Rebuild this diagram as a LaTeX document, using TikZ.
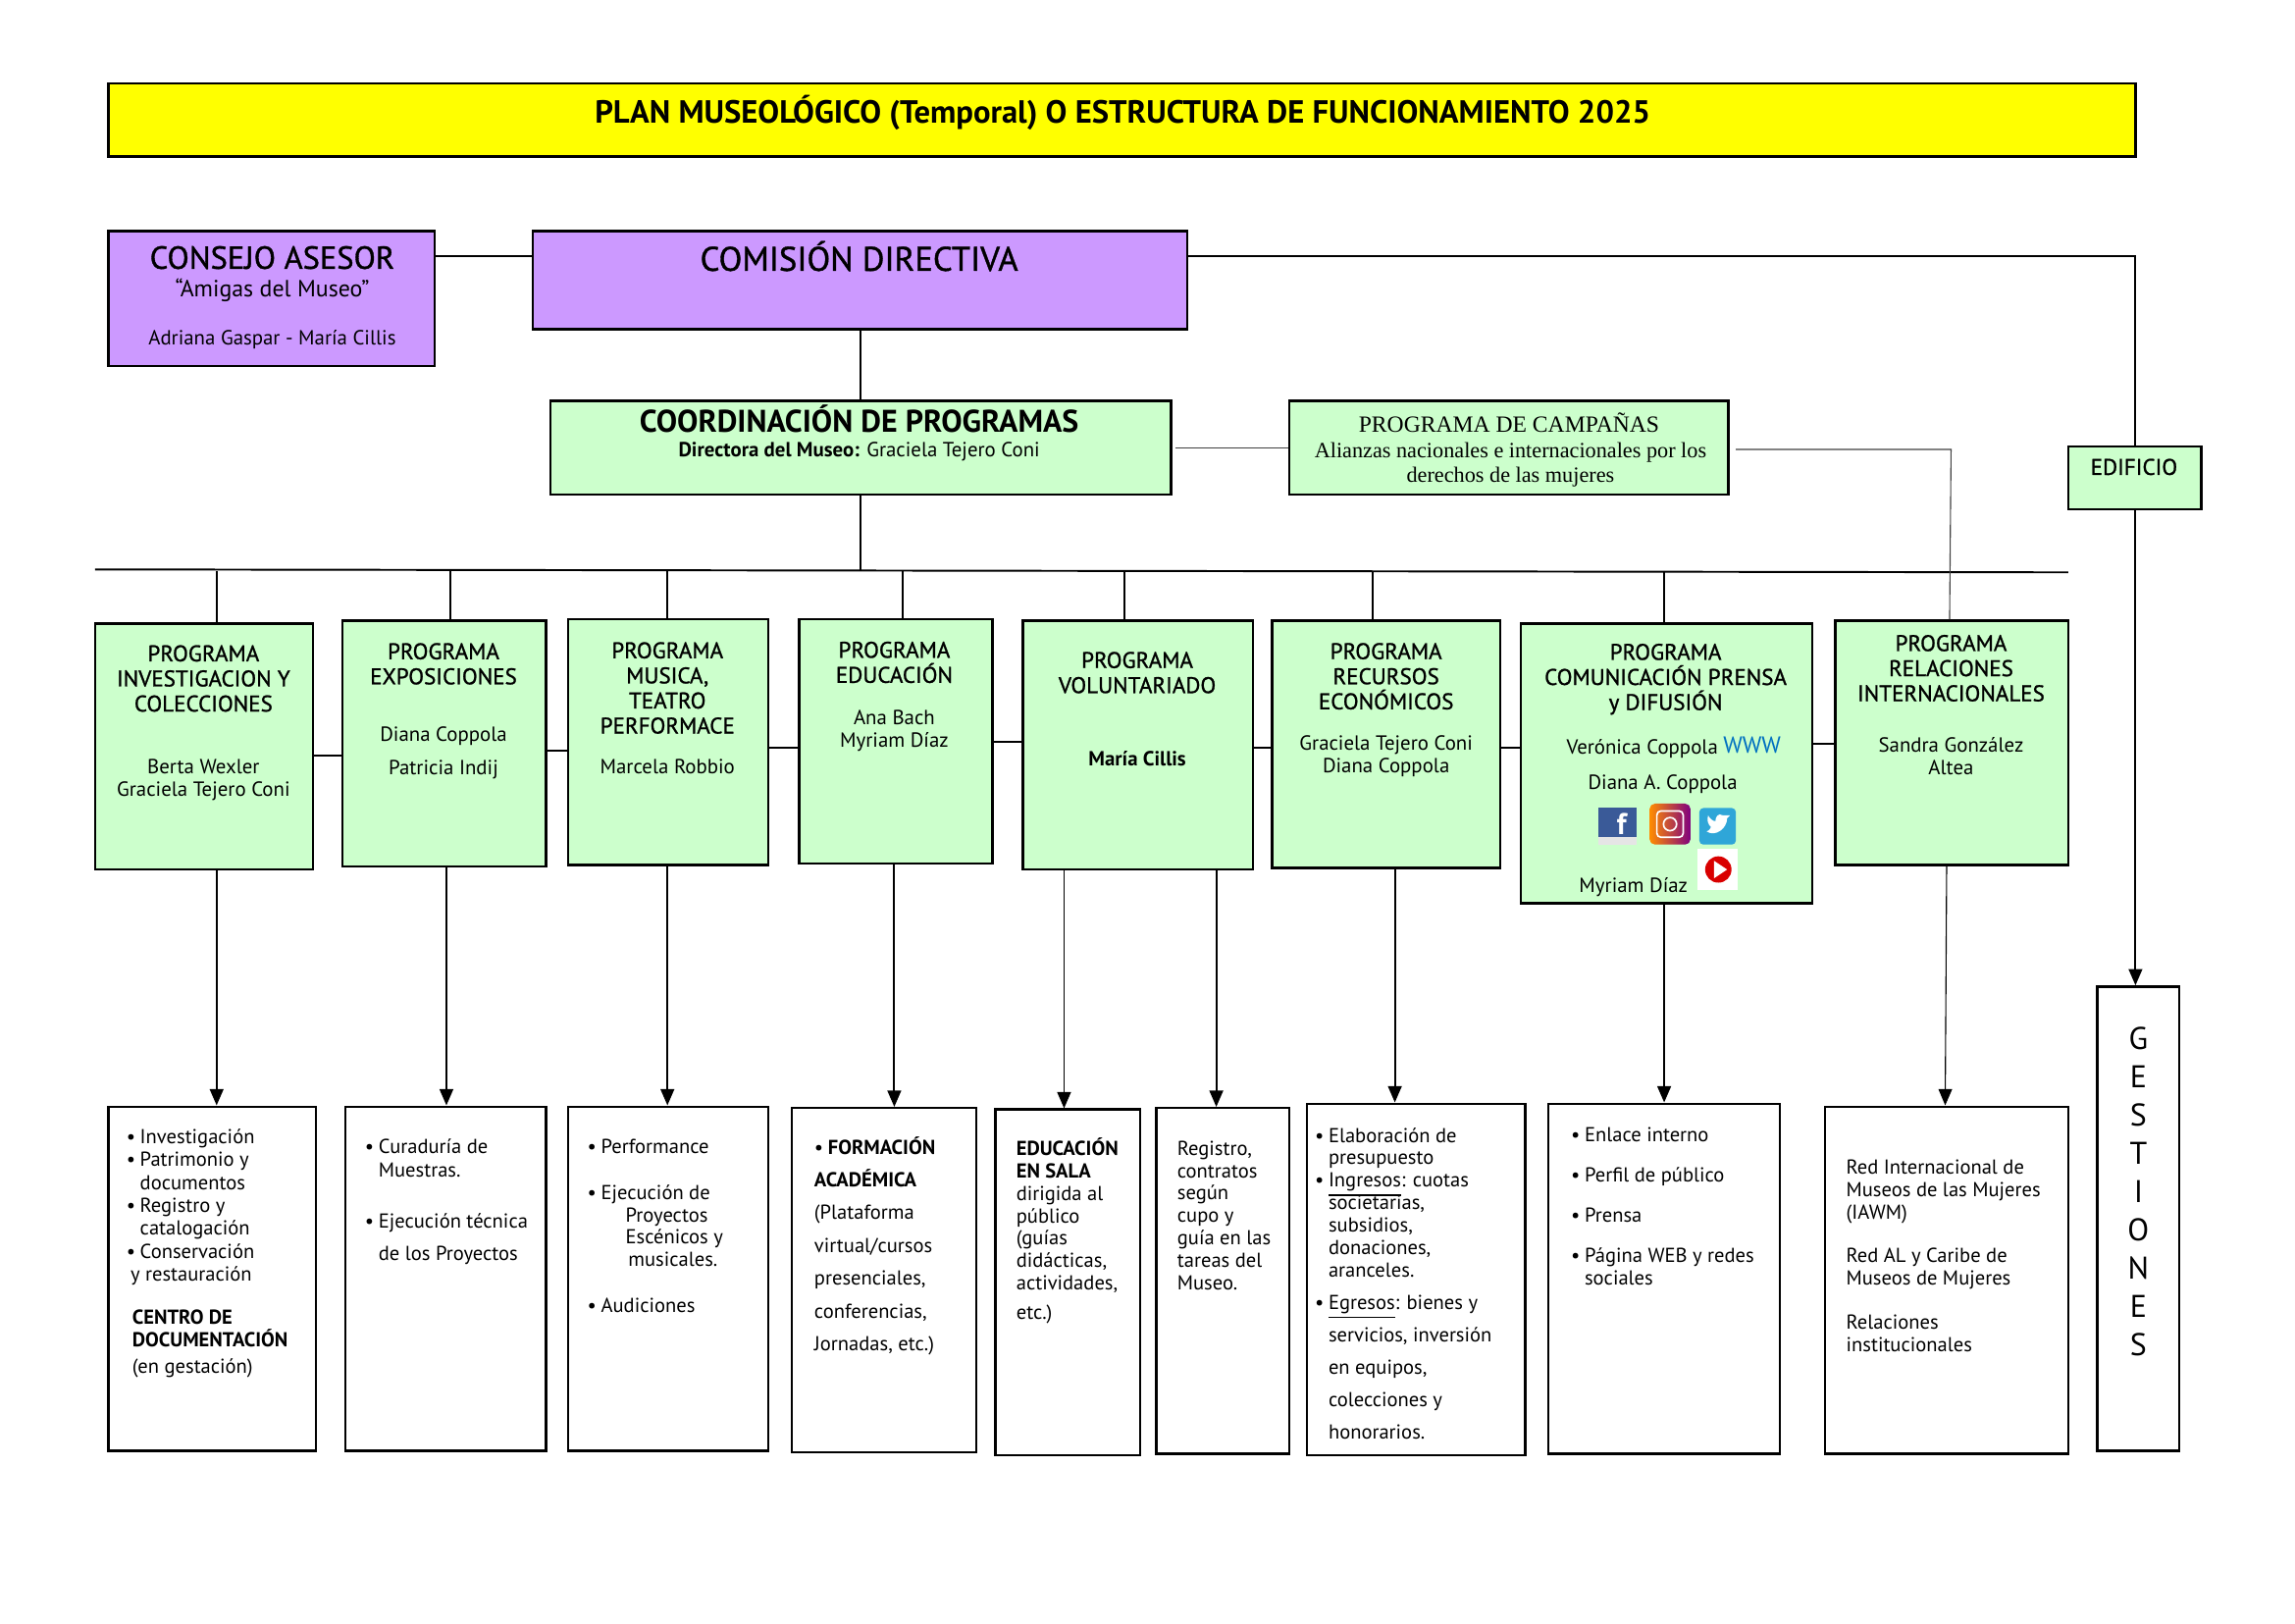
\documentclass[tikz,border=0pt]{standalone}
\usepackage{fontspec}
\usepackage{tikz}
\usetikzlibrary{calc, fit, arrows.meta}
\setmainfont{PT Sans}
\newfontfamily\medfont[FakeBold=1]{PT Sans}
\newfontfamily\serifcamp{Liberation Serif}
\definecolor{amarillo}{HTML}{FFFF00}
\definecolor{lila}{HTML}{CC99FF}
\definecolor{verde}{HTML}{CCFFCC}
\definecolor{azulweb}{HTML}{0070C0}
\definecolor{azulfb}{HTML}{3A5A98}
\definecolor{azultw}{HTML}{2FA6D8}
\newcommand{\bu}{\makebox[5pt][l]{\textbullet}}
\newcommand{\sep}[1]{\hspace*{#1pt}}
\newcommand{\subr}[1]{\smash{\underline{#1}}}

\begin{document}
\begin{tikzpicture}[x=0.5369pt,y=-0.5369pt]
\tikzstyle{framebox}=[draw=black,line width=0.9pt,inner sep=0pt,rectangle]
\tikzstyle{yellowbox}=[framebox,fill=amarillo]
\tikzstyle{lilabox}=[framebox,fill=lila]
\tikzstyle{greenbox}=[framebox,fill=verde]
\tikzstyle{whitebox}=[framebox,fill=white]
\tikzstyle{headtxt}=[inner sep=0pt,align=center,font=\medfont\fontsize{8.3}{9.2}\selectfont]
\tikzstyle{nametxt}=[inner sep=0pt,align=center,yshift=-1pt,font=\fontsize{7.5}{8.3}\selectfont]
\tikzstyle{listtxt}=[inner sep=0pt,align=left,anchor=north west,font=\fontsize{7.4}{8.4}\selectfont]
\tikzstyle{tightlist}=[listtxt,font=\fontsize{7.4}{8.23}\selectfont]
\tikzstyle{linkline}=[black,line width=0.7pt]
\tikzstyle{thinline}=[black!75,line width=0.4pt]
\tikzstyle{arrowline}=[linkline,-{Triangle[length=6pt,width=5pt]}]
\useasboundingbox (0,0) rectangle (1568,1108.8);

% upper boxes
\node[yellowbox,fit={(74,57) (1459,107)}] (PLAN) {};
\node[lilabox,fit={(74,158) (297,250)}] (CONSEJO) {};
\node[lilabox,fit={(364,158) (811,225)}] (COMISION) {};
\node[greenbox,fit={(376,274) (800,338)}] (COORD) {};
\node[greenbox,fit={(881,274) (1181,338)}] (CAMP) {};
\node[greenbox,fit={(1413,305) (1504,348)}] (EDIF) {};
\node[whitebox,fit={(1433,674) (1489,991)}] (GEST) {};

% programs
\node[greenbox,fit={(65,426) (214,594)}] (P_1) {};
\node[greenbox,fit={(234,424) (373,592)}] (P_2) {};
\node[greenbox,fit={(388,423) (525,591)}] (P_3) {};
\node[greenbox,fit={(546,423) (678,590)}] (P_4) {};
\node[greenbox,fit={(699,424) (856,594)}] (P_5) {};
\node[greenbox,fit={(869,424) (1025,593)}] (P_6) {};
\node[greenbox,fit={(1039,426) (1238,617)}] (P_7) {};
\node[greenbox,fit={(1254,424) (1413,591)}] (P_8) {};

% lower boxes
\node[whitebox,fit={(74,756) (216,991)}] (B_1) {};
\node[whitebox,fit={(236,756) (373,991)}] (B_2) {};
\node[whitebox,fit={(388,756) (525,991)}] (B_3) {};
\node[whitebox,fit={(541,757) (667,992)}] (B_4) {};
\node[whitebox,fit={(680,758) (779,994)}] (B_5) {};
\node[whitebox,fit={(790,757) (881,993)}] (B_6) {};
\node[whitebox,fit={(893,754) (1042,994)}] (B_7) {};
\node[whitebox,fit={(1058,754) (1216,993)}] (B_8) {};
\node[whitebox,fit={(1247,756) (1413,993)}] (B_9) {};

% connectors
\coordinate (BUS_L) at (65,389);
\coordinate (BUS_R) at (1413,391);
\coordinate (BUS_C) at (588,390);
\draw[linkline] (BUS_L) -- (BUS_R);
\draw[linkline] (CONSEJO.east |- 0,175) -- (COMISION.west |- 0,175);
\draw[linkline] (COMISION.south -| 588,0) -- (COORD.north -| 588,0);
\draw[linkline] (COORD.south -| 588,0) -- (BUS_C);
\draw[linkline] (COMISION.east |- 0,175) -| (EDIF.north);
\draw[arrowline] (EDIF.south -| 1459,0) -- (GEST.north -| 1459,0);
\draw[thinline] (803,306) -- (CAMP.west |- 0,306);
\draw[thinline] (1186,307) -- (1333,307) -- (P_8.north -| 1332,0);
\foreach \i/\x in {1/148,2/308,3/456,4/617,5/768,6/938,7/1137}
  \draw[linkline] (\x,390) -- (P_\i.north -| \x,0);
\foreach \i/\j/\y in {1/2/516,2/3/513,3/4/511,4/5/507,5/6/511,6/7/511,7/8/508}
  \draw[linkline] (P_\i.east |- 0,\y) -- (P_\j.west |- 0,\y);
\foreach \i/\j/\x in {1/1/148,2/2/305,3/3/456,4/4/611,5/5/727,5/6/831,6/7/953,7/8/1137}
  \draw[arrowline] (P_\i.south -| \x,0) -- (B_\j.north -| \x,0);
\draw[thinline,-{Triangle[length=6pt,width=5pt]},black] (P_8.south -| 1330,0) -- (B_9.north -| 1329,0);

% texts upper boxes
\node[inner sep=0pt,font=\bfseries\fontsize{11.75}{13}\selectfont] (T_plan) at (767,77) {PLAN MUSEOLÓGICO (Temporal) O ESTRUCTURA DE FUNCIONAMIENTO 2025};
\node[inner sep=0pt,font=\medfont\fontsize{11.7}{13}\selectfont] (T_consejo) at (186,176) {CONSEJO ASESOR};
\node[nametxt,font=\fontsize{8.6}{9}\selectfont] (T_amigas) at (186,196.5) {“Amigas del Museo”};
\node[nametxt] (T_adriana) at (186,230) {Adriana Gaspar - María Cillis};
\node[inner sep=0pt,font=\medfont\fontsize{12.5}{14}\selectfont] (T_comision) at (587,175) {COMISIÓN DIRECTIVA};
\node[inner sep=0pt,font=\bfseries\fontsize{11.5}{13}\selectfont] (T_coord) at (587,286) {COORDINACIÓN DE PROGRAMAS};
\node[nametxt] (T_directora) at (587,307) {\textbf{Directora del Museo:} Graciela Tejero Coni};
\node[inner sep=0pt,align=center,font=\serifcamp\fontsize{8.5}{9}\selectfont] (T_camp) at (1031,289) {PROGRAMA DE CAMPAÑAS};
\node[inner sep=0pt,align=center,font=\serifcamp\fontsize{8}{9}\selectfont] (T_alianzas) at (1032,317.5) {Alianzas nacionales e internacionales por los\\derechos de las mujeres};
\node[headtxt] (T_edif) at (1458,319) {EDIFICIO};
\node[inner sep=0pt,align=center,font=\fontsize{11.5}{14}\selectfont] (T_gest) at (1461,814) {G\\E\\S\\T\\I\\O\\N\\E\\S};

% texts programs
\node[headtxt] (H_1) at (139,463.5) {PROGRAMA\\INVESTIGACION Y\\COLECCIONES};
\node[nametxt] (N_1) at (139,531) {Berta Wexler\\Graciela Tejero Coni};
\node[headtxt] (H_2) at (303,453.5) {PROGRAMA\\EXPOSICIONES};
\node[nametxt] (N_2a) at (303,501) {Diana Coppola};
\node[nametxt] (N_2b) at (303,524) {Patricia Indij};
\node[headtxt] (H_3) at (456,470) {PROGRAMA\\MUSICA,\\TEATRO\\PERFORMACE};
\node[nametxt] (N_3) at (456,522) {Marcela Robbio};
\node[headtxt] (H_4) at (611,452.5) {PROGRAMA\\EDUCACIÓN};
\node[nametxt] (N_4) at (611,497.5) {Ana Bach\\Myriam Díaz};
\node[headtxt] (H_5) at (777,459.5) {PROGRAMA\\VOLUNTARIADO};
\node[nametxt] (N_5) at (777,516.5) {\textbf{María Cillis}};
\node[headtxt] (H_6) at (947,462) {PROGRAMA\\RECURSOS\\ECONÓMICOS};
\node[nametxt] (N_6) at (947,514.5) {Graciela Tejero Coni\\Diana Coppola};
\node[headtxt] (H_7) at (1138,464) {PROGRAMA\\COMUNICACIÓN PRENSA\\y DIFUSIÓN};
\node[nametxt] (N_7a) at (1122,510) {Verónica Coppola};
\node[inner sep=0pt,text=azulweb,font=\fontsize{8.5}{9}\selectfont] (N_www) at (1197,509) {WWW};
\node[nametxt] (N_7b) at (1136,534) {Diana A. Coppola};
\node[nametxt] (N_7c) at (1116,604) {Myriam Díaz};
\node[headtxt] (H_8) at (1333,456.5) {PROGRAMA\\RELACIONES\\INTERNACIONALES};
\node[nametxt] (N_8) at (1333,514.5) {Sandra González\\Altea};

% icons
\fill[azulfb] (1092,552) rectangle (1118,572);
\fill[black!10] (1092,572) rectangle (1118,577);
\node[inner sep=0pt,text=white,font=\bfseries\fontsize{11}{11}\selectfont] (I_fb) at (1108,563) {f};
\shade[left color=orange!90!yellow,right color=violet,rounded corners=2pt] (1127,549) rectangle (1155,577);
\draw[white,line width=0.6pt,rounded corners=1.5pt] (1132,554) rectangle (1150,572);
\draw[white,line width=0.6pt] (1141,563) circle (4.5);
\fill[azultw,rounded corners=1.5pt] (1161,552) rectangle (1186,577);
\fill[white] (1166,568) .. controls (1172,572) and (1180,566) .. (1180,559) -- (1182,557) -- (1177,557) .. controls (1174,555) and (1172,558) .. (1172,561) .. controls (1170,561) and (1168,559) .. (1167,557) .. controls (1166,561) and (1167,563) .. (1169,565) .. controls (1168,567) and (1167,568) .. (1166,568) -- cycle;
\fill[white] (1160,580) rectangle (1187,608);
\fill[red!85!black] (1174,594) circle (9);
\fill[white] (1171,588) -- (1180,594) -- (1171,600) -- cycle;

% texts lower boxes
\node[listtxt] (L_1) at (86,771) {\bu Investigación\\[0pt]\bu Patrimonio y\\\sep{5}documentos\\\bu Registro y\\\sep{5}catalogación\\\bu Conservación\\\sep{1.5}y restauración};
\node[listtxt] (L_1b) at (90,894.5) {\textbf{CENTRO DE}\\\textbf{DOCUMENTACIÓN}\\[1pt](en gestación)};
\node[listtxt] (L_2) at (249,778) {\bu Curaduría de\\\sep{5}Muestras.\\[10.5pt]\bu Ejecución técnica\\[3.5pt]\sep{5}de los Proyectos};
\node[tightlist] (L_3) at (401,778) {\bu Performance\\[8.5pt]\bu Ejecución de\\\sep{14}Proyectos\\\sep{14}Escénicos y\\\sep{15}musicales.\\[8.5pt]\bu Audiciones};
\node[listtxt,font=\fontsize{7.4}{12.05}\selectfont] (L_4) at (556,776) {\bu\textbf{FORMACIÓN}\\\textbf{ACADÉMICA}\\(Plataforma\\virtual/cursos\\presenciales,\\conferencias,\\Jornadas, etc.)};
\node[tightlist] (L_5) at (694,777) {\textbf{EDUCACIÓN}\\\textbf{EN SALA}\\dirigida al\\público\\(guías\\didácticas,\\actividades,\\[2.5pt]etc.)};
\node[tightlist] (L_6) at (804,779) {Registro,\\contratos\\según\\cupo y\\guía en las\\tareas del\\Museo.};
\node[tightlist] (L_7) at (898,770) {\bu Elaboración de\\\sep{5}presupuesto\\\bu \subr{Ingresos}: cuotas\\\sep{5}societarias,\\\sep{5}subsidios,\\\sep{5}donaciones,\\\sep{5}aranceles.\\[3.65pt]\bu \subr{Egresos}: bienes y\\[3.65pt]\sep{5}servicios, inversión\\[3.65pt]\sep{5}en equipos,\\[3.65pt]\sep{5}colecciones y\\[3.65pt]\sep{5}honorarios.};
\node[listtxt] (L_8) at (1073,770) {\bu Enlace interno\\[6.3pt]\bu Perfil de público\\[6.3pt]\bu Prensa\\[6.3pt]\bu Página WEB y redes\\\sep{5}sociales};
\node[tightlist] (L_9) at (1261,792) {Red Internacional de\\Museos de las Mujeres\\(IAWM)\\[7.8pt]Red AL y Caribe de\\Museos de Mujeres\\[7.8pt]Relaciones\\institucionales};
\end{tikzpicture}
\end{document}
